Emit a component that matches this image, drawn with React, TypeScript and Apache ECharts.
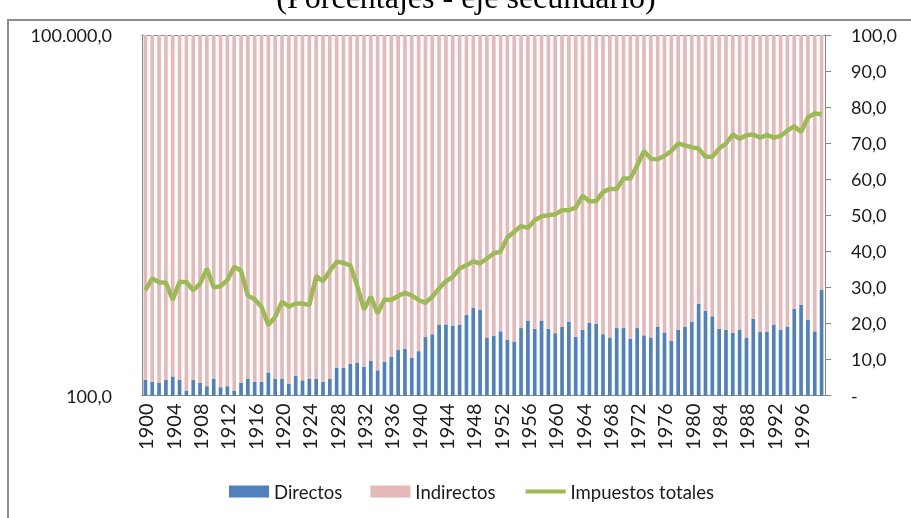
import { useEffect, useRef } from 'react';
import * as echarts from 'echarts';

const years = [
  '1900','1901','1902','1903','1904','1905','1906','1907','1908','1909',
  '1910','1911','1912','1913','1914','1915','1916','1917','1918','1919',
  '1920','1921','1922','1923','1924','1925','1926','1927','1928','1929',
  '1930','1931','1932','1933','1934','1935','1936','1937','1938','1939',
  '1940','1941','1942','1943','1944','1945','1946','1947','1948','1949',
  '1950','1951','1952','1953','1954','1955','1956','1957','1958','1959',
  '1960','1961','1962','1963','1964','1965','1966','1967','1968','1969',
  '1970','1971','1972','1973','1974','1975','1976','1977','1978','1979',
  '1980','1981','1982','1983','1984','1985','1986','1987','1988','1989',
  '1990','1991','1992','1993','1994','1995','1996','1997','1998','1999',
];

// % of total taxes (secondary axis)
const directos = [
  4.4, 3.8, 3.5, 4.4, 5.3, 4.4, 1.4, 4.4, 3.5, 2.6,
  4.7, 2.3, 2.6, 1.4, 3.5, 4.7, 3.8, 3.8, 6.4, 4.7,
  4.7, 3.2, 5.5, 4.2, 4.7, 4.7, 3.8, 4.7, 7.7, 7.7,
  8.8, 9.1, 7.9, 9.7, 7.0, 9.4, 10.8, 12.6, 12.9, 10.5,
  12.3, 16.2, 17.0, 19.7, 19.7, 19.4, 19.7, 22.3, 24.3, 23.7,
  16.1, 16.6, 17.8, 15.5, 15.0, 18.7, 20.8, 18.5, 20.8, 18.5,
  17.3, 19.0, 20.5, 16.3, 18.2, 20.2, 19.9, 17.0, 16.1, 18.7,
  18.7, 15.8, 18.7, 16.7, 16.1, 19.0, 17.5, 15.2, 18.2, 19.0,
  20.5, 25.5, 23.5, 22.0, 18.5, 18.2, 17.4, 18.2, 16.1, 21.3,
  17.6, 17.6, 19.7, 18.2, 19.0, 24.1, 25.2, 21.1, 17.8, 29.4,
];

const indirectos = [
  95.6, 96.2, 96.5, 95.6, 94.7, 95.6, 98.6, 95.6, 96.5, 97.4,
  95.3, 97.7, 97.4, 98.6, 96.5, 95.3, 96.2, 96.2, 93.6, 95.3,
  95.3, 96.8, 94.5, 95.8, 95.3, 95.3, 96.2, 95.3, 92.3, 92.3,
  91.2, 90.9, 92.1, 90.3, 93.0, 90.6, 89.2, 87.4, 87.1, 89.5,
  87.7, 83.8, 83.0, 80.3, 80.3, 80.6, 80.3, 77.7, 75.7, 76.3,
  83.9, 83.4, 82.2, 84.5, 85.0, 81.3, 79.2, 81.5, 79.2, 81.5,
  82.7, 81.0, 79.5, 83.7, 81.8, 79.8, 80.1, 83.0, 83.9, 81.3,
  81.3, 84.2, 81.3, 83.3, 83.9, 81.0, 82.5, 84.8, 81.8, 81.0,
  79.5, 74.5, 76.5, 78.0, 81.5, 81.8, 82.6, 81.8, 83.9, 78.7,
  82.4, 82.4, 80.3, 81.8, 81.0, 75.9, 74.8, 78.9, 82.2, 70.6,
];

// Total taxes (primary, logarithmic axis)
const totales = [
  752, 944, 875, 869, 624, 881, 881, 752, 851, 1138,
  794, 811, 912, 1178, 1091, 678, 632, 547, 385, 451,
  603, 547, 582, 582, 566, 984, 893, 1091, 1297, 1271,
  1211, 822, 521, 664, 483, 628, 624, 673, 716, 682,
  624, 590, 664, 778, 893, 970, 1138, 1211, 1315, 1253,
  1380, 1521, 1585, 2061, 2301, 2570, 2483, 2871, 3097, 3162,
  3228, 3483, 3483, 3656, 4592, 4140, 4140, 4955, 5236, 5236,
  6397, 6397, 8204, 10814, 9354, 9226, 9886, 10814, 12503, 12078,
  11588, 11350, 9683, 9683, 11350, 12503, 14859, 13677, 14655, 14859,
  13964, 14757, 13964, 14454, 16032, 17418, 15596, 20701, 22182, 21878,
];

const titleText = '(Porcentajes - eje secundario)';
const AXIS = '#868686';
const TXT = '#1a1a1a';

export default function App() {
  const ref = useRef<HTMLDivElement>(null);
  useEffect(() => {
    const chart = echarts.init(ref.current!, null, { renderer: 'svg' });
    chart.setOption({
      animation: false,
      textStyle: { fontFamily: 'Lato' },
      graphic: [
        {
          type: 'rect',
          silent: true,
          z: -10,
          shape: { x: 8, y: 20, width: 920, height: 520 },
          style: { fill: 'none', stroke: '#8c8c8c', lineWidth: 2 },
        },
        {
          type: 'text',
          silent: true,
          x: 466,
          y: -3,
          style: {
            text: titleText,
            fontFamily: 'Liberation Serif',
            fontSize: 32,
            fill: '#000',
            align: 'center',
            verticalAlign: 'middle',
          },
        },
      ],
      legend: {
        left: 224,
        top: 477,
        itemWidth: 40,
        itemHeight: 12,
        itemGap: 28,
        textStyle: { fontSize: 18.5, color: TXT, fontFamily: 'Lato' },
        data: [
          { name: 'Directos', icon: 'rect' },
          { name: 'Indirectos', icon: 'rect' },
          {
            name: 'Impuestos totales',
            itemStyle: { opacity: 0 },
            lineStyle: { width: 4, color: '#9BBB59' },
          },
        ],
      },
      grid: { left: 142, right: 86, top: 35, bottom: 122.5 },
      xAxis: [
        {
          type: 'category',
          data: years,
          axisLine: { lineStyle: { color: AXIS, width: 1 } },
          axisTick: { interval: 0, length: 5, lineStyle: { color: AXIS } },
          axisLabel: {
            interval: 3,
            rotate: 90,
            fontSize: 20,
            color: TXT,
            margin: 8,
            fontFamily: 'Lato',
          },
        },
        {
          type: 'category',
          position: 'top',
          data: years,
          axisLine: { show: true, lineStyle: { color: AXIS } },
          axisTick: { show: false },
          axisLabel: { show: false },
        },
      ],
      yAxis: [
        {
          type: 'log',
          logBase: 10,
          min: 100,
          max: 100000,
          position: 'left',
          axisLine: { show: true, lineStyle: { color: AXIS } },
          axisTick: { show: false },
          splitLine: { show: false },
          axisLabel: {
            fontSize: 18,
            color: TXT,
            margin: 30,
            formatter: (v: number) => {
              const r = Math.round(v);
              if (r === 100) return '100,0';
              if (r === 100000) return '100.000,0';
              return '';
            },
          },
        },
        {
          type: 'value',
          min: 0,
          max: 100,
          interval: 10,
          position: 'right',
          axisLine: { show: true, lineStyle: { color: AXIS } },
          axisTick: { show: true, length: 6, lineStyle: { color: AXIS } },
          splitLine: { show: false },
          axisLabel: {
            fontSize: 18,
            color: TXT,
            margin: 26,
            formatter: (v: number) => (v === 0 ? '-' : v.toFixed(1).replace('.', ',')),
          },
        },
      ],
      series: [
        {
          name: 'Directos',
          type: 'bar',
          stack: 'pct',
          yAxisIndex: 1,
          data: directos,
          barCategoryGap: '46%',
          itemStyle: { color: '#4F81BD' },
        },
        {
          name: 'Indirectos',
          type: 'bar',
          stack: 'pct',
          yAxisIndex: 1,
          data: indirectos,
          itemStyle: { color: '#E6B9B8' },
        },
        {
          name: 'Impuestos totales',
          type: 'line',
          yAxisIndex: 0,
          data: totales,
          symbol: 'none',
          z: 5,
          lineStyle: { width: 4.5, color: '#9BBB59' },
          itemStyle: { color: '#9BBB59' },
        },
      ],
    });
    return () => chart.dispose();
  }, []);
  return (
    <div
      ref={ref}
      style={{ position: 'fixed', left: 0, top: 0, width: 911, height: 518 }}
    />
  );
}
